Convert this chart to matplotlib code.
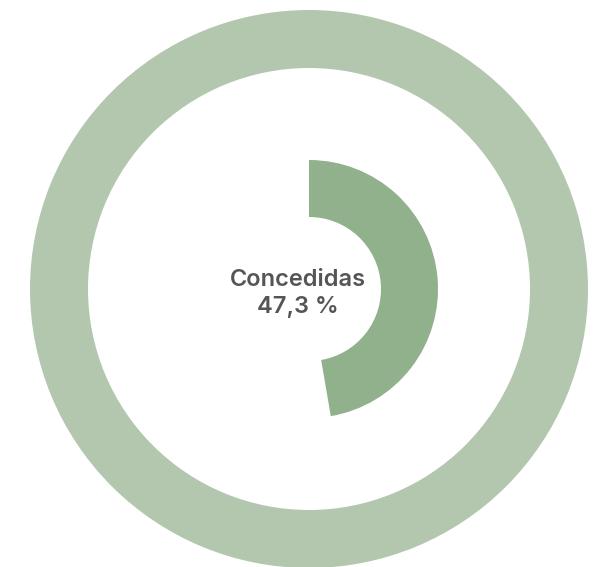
import matplotlib
matplotlib.use("Agg")
import matplotlib.pyplot as plt

labels = ["Total", "Concedidas"]
values = [100.0, 47.3]
label_text = "Concedidas"
value_text = "47,3 %"

W, H = 598, 567
fig = plt.figure(figsize=(W / 100, H / 100), dpi=100)
ax = fig.add_axes([0, 0, 1, 1])

cx, cy = 309, H - 289

# outer full ring (track)
ax.pie([values[0]], radius=279, center=(cx, cy), startangle=90, counterclock=False,
       colors=["#b3c7ae"], wedgeprops=dict(width=58, linewidth=0), frame=True)
# inner arc (value)
ax.pie([values[1], 100 - values[1]], radius=129, center=(cx, cy), startangle=90,
       counterclock=False, colors=["#91b18c", "none"],
       wedgeprops=dict(width=57, linewidth=0), frame=True)
ax.set_xlim(0, W)
ax.set_ylim(0, H)
ax.set_aspect("equal")
ax.axis("off")

ax.text(298, H - 280, label_text, ha="center", va="center", fontsize=17,
        fontweight="semibold", color="#555555", family=["Inter", "DejaVu Sans"])
ax.text(298, H - 307, value_text, ha="center", va="center", fontsize=17,
        fontweight="semibold", color="#555555", family=["Inter", "DejaVu Sans"])

fig.savefig("out.png", dpi=100)
